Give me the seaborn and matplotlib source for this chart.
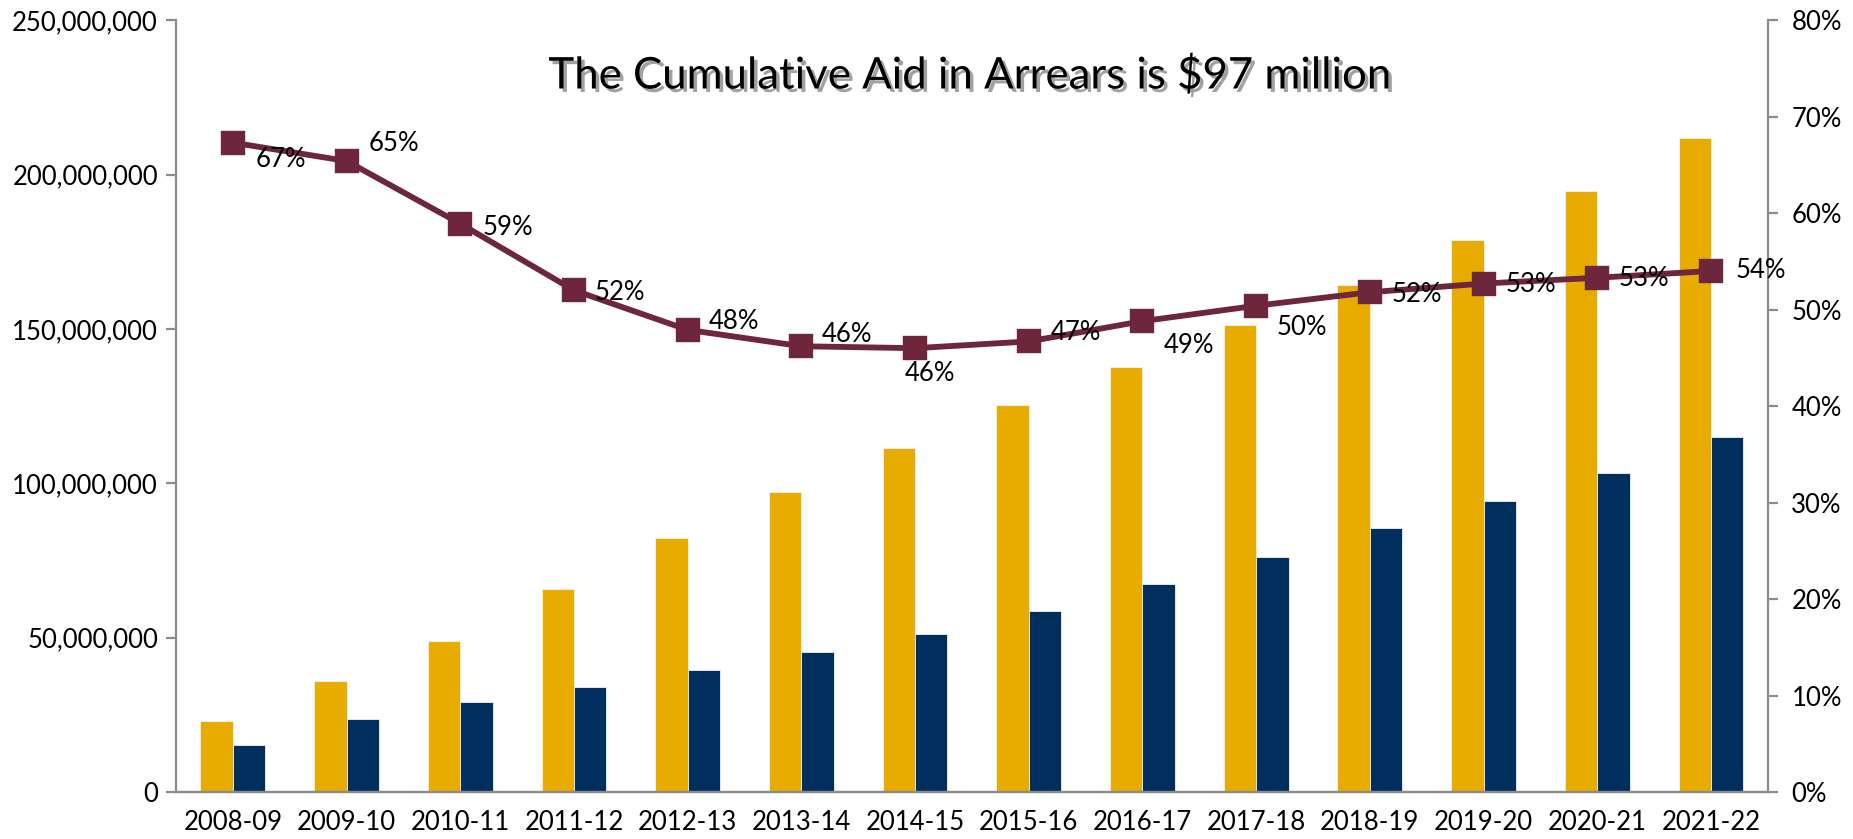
import matplotlib
matplotlib.use("Agg")
import matplotlib.pyplot as plt
import matplotlib.patheffects as pe
from matplotlib.ticker import FuncFormatter, MultipleLocator
import seaborn as sns
import pandas as pd

# Fiscal years
years = ["2008-09", "2009-10", "2010-11", "2011-12", "2012-13", "2013-14", "2014-15",
         "2015-16", "2016-17", "2017-18", "2018-19", "2019-20", "2020-21", "2021-22"]

# Cumulative amounts (dollars)
series_a = [23.0e6, 36.0e6, 49.0e6, 65.9e6, 82.3e6, 97.2e6, 111.4e6,
            125.2e6, 137.8e6, 151.2e6, 164.2e6, 178.8e6, 194.5e6, 211.7e6]
series_b = [15.3e6, 23.7e6, 29.1e6, 34.1e6, 39.4e6, 45.2e6, 51.3e6,
            58.6e6, 67.4e6, 76.2e6, 85.4e6, 94.2e6, 103.4e6, 114.9e6]

# Share shown on the secondary axis
share = [0.673, 0.654, 0.589, 0.520, 0.479, 0.462, 0.460,
         0.467, 0.488, 0.504, 0.518, 0.527, 0.533, 0.540]

title_text = "The Cumulative Aid in Arrears is $97 million"

GOLD = "#E8AC00"
NAVY = "#002E5D"
MAROON = "#6E263D"
GREY = "#8C8C8C"

sns.set_theme(style="white")
plt.rcParams["font.family"] = ["Lato", "DejaVu Sans"]

bars = pd.DataFrame({
    "year": years * 2,
    "amount": series_a + series_b,
    "series": ["A"] * len(years) + ["B"] * len(years),
})
line = pd.DataFrame({"year": years, "share": share})

fig = plt.figure(figsize=(18.53, 8.39), dpi=100)
ax = fig.add_axes([0.095, 0.056, 0.859, 0.920])

sns.barplot(data=bars, x="year", y="amount", hue="series", order=years,
            palette={"A": GOLD, "B": NAVY}, width=0.57, gap=0, saturation=1,
            edgecolor="#F2F2F2", linewidth=0.6, legend=False, ax=ax)

ax.set_ylim(0, 250e6)
ax.yaxis.set_major_locator(MultipleLocator(50e6))
ax.yaxis.set_major_formatter(FuncFormatter(lambda v, p: f"{v:,.0f}"))
ax.set_xlabel("")
ax.set_ylabel("")

ax2 = ax.twinx()
sns.pointplot(data=line, x="year", y="share", order=years, color=MAROON,
              marker="s", markersize=14, linewidth=4.2, ax=ax2)
ax2.set_ylim(0, 0.8)
ax2.yaxis.set_major_locator(MultipleLocator(0.1))
ax2.yaxis.set_major_formatter(FuncFormatter(lambda v, p: f"{v:.0%}"))
ax2.set_ylabel("")
ax2.set_xlim(-0.5, len(years) - 0.5)
ax.set_xlim(-0.5, len(years) - 0.5)

# Label offsets in pixels, relative to each marker
label_dx = [48, 47, 48, 46, 46, 46, 15, 47, 47, 46, 47, 47, 47, 50]
label_dy = [-17, 18, -4, -2, 8, 12, -25, 9, -24, -22, -2, -1, -1, 0]
for i, v in enumerate(share):
    ax2.annotate(f"{v:.0%}", xy=(i, v), xytext=(label_dx[i], label_dy[i]),
                 textcoords="offset pixels", ha="center", va="center",
                 fontsize=18.5, color="#000000")

for a in (ax, ax2):
    a.spines["top"].set_visible(False)
    for s in ("left", "right", "bottom"):
        a.spines[s].set_color(GREY)
        a.spines[s].set_linewidth(1.6)
    a.tick_params(axis="y", length=7, width=1.6, color=GREY, labelsize=18.5,
                  labelcolor="#000000", pad=6)
    a.tick_params(axis="x", length=0, labelsize=18.5, labelcolor="#000000", pad=13)
    a.grid(False)

ax.tick_params(axis="y", left=True, right=False)
ax2.tick_params(axis="y", right=True, left=False, pad=10)
ax2.spines["left"].set_visible(False)
ax.spines["right"].set_visible(False)

ax.text(0.5236, 0.91, title_text, transform=fig.transFigure, ha="center",
        va="center", fontsize=31.5, color="#000000",
        path_effects=[pe.SimplePatchShadow(offset=(2.5, -2.5),
                                           shadow_rgbFace="#555555", alpha=0.55),
                      pe.Normal()])

fig.savefig("out.png", dpi=100, facecolor="white")
